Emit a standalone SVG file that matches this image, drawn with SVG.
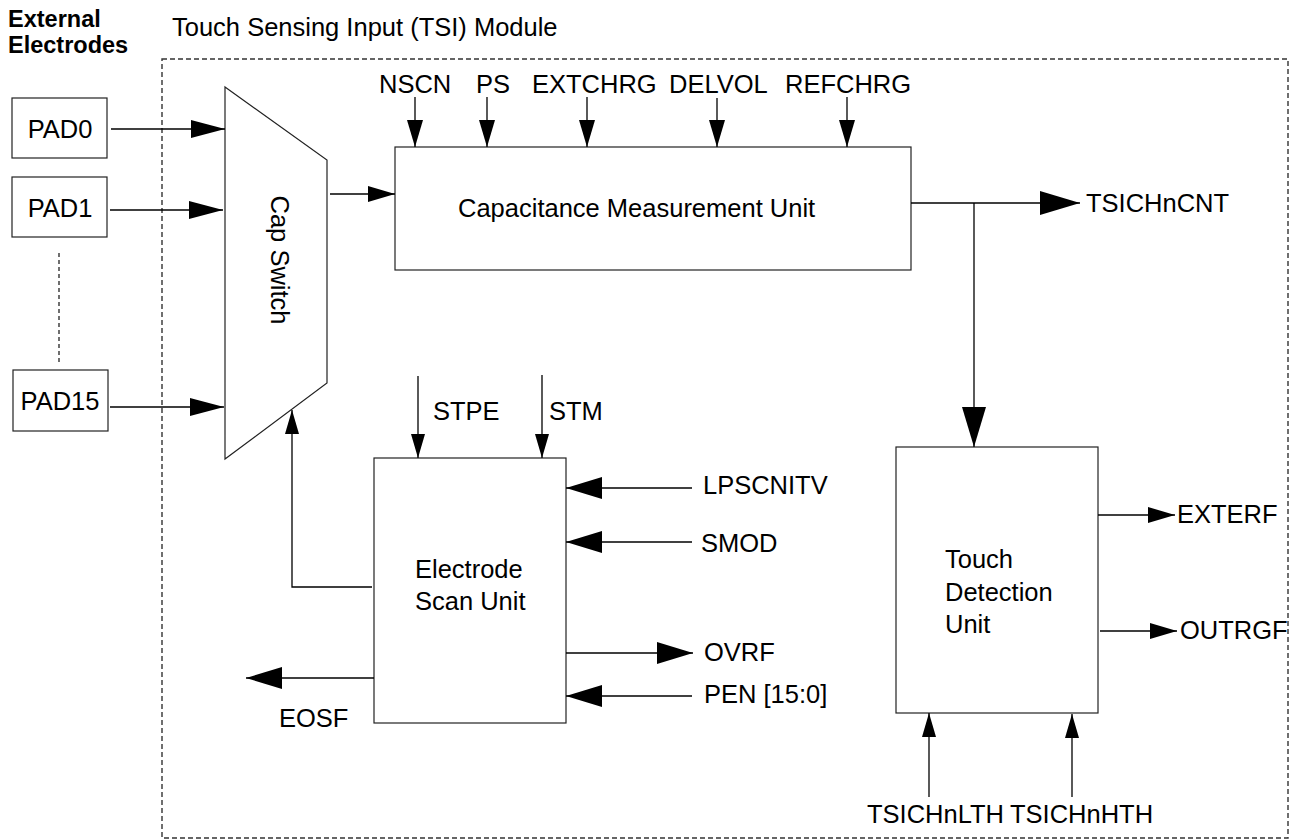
<svg xmlns="http://www.w3.org/2000/svg" width="1294" height="839" viewBox="0 0 1294 839">
<style>
text{font-family:"Liberation Sans",Arial,Helvetica,sans-serif;font-size:25.5px;fill:#000}
.bold{font-weight:bold;font-size:23.5px}
.box{fill:#fff;stroke:#222;stroke-width:1.2}
.wire{fill:none;stroke:#000;stroke-width:1.3}
.dash{fill:none;stroke:#333;stroke-width:1.4;stroke-dasharray:5,3}
.dot{fill:none;stroke:#222;stroke-width:1.3;stroke-dasharray:4,3}
</style>
<defs>
<marker id="mA" markerUnits="userSpaceOnUse" markerWidth="34" markerHeight="18" refX="34" refY="9" orient="auto"><path d="M0,0 L34,9 L0,18 z" fill="#000"/></marker>
<marker id="mB" markerUnits="userSpaceOnUse" markerWidth="27" markerHeight="16" refX="27" refY="8" orient="auto"><path d="M0,0 L27,8 L0,16 z" fill="#000"/></marker>
<marker id="mC" markerUnits="userSpaceOnUse" markerWidth="40" markerHeight="24" refX="40" refY="12" orient="auto"><path d="M0,0 L40,12 L0,24 z" fill="#000"/></marker>
<marker id="mD" markerUnits="userSpaceOnUse" markerWidth="36" markerHeight="22" refX="36" refY="11" orient="auto"><path d="M0,0 L36,11 L0,22 z" fill="#000"/></marker>
<marker id="mE" markerUnits="userSpaceOnUse" markerWidth="24" markerHeight="14" refX="24" refY="7" orient="auto"><path d="M0,0 L24,7 L0,14 z" fill="#000"/></marker>
</defs>
<rect width="1294" height="839" fill="#fff"/>

<g id="titles">
<text class="bold" x="8" y="27">External</text>
<text class="bold" x="8" y="53">Electrodes</text>
<text x="172" y="36">Touch Sensing Input (TSI) Module</text>
</g>

<g id="tsi-module">
<rect class="dash" x="162" y="59" width="1126" height="779"/>
</g>

<g id="pad0"><rect class="box" x="12" y="98" width="95" height="60"/><text x="60" y="138" text-anchor="middle">PAD0</text></g>
<g id="pad1"><rect class="box" x="12" y="177" width="95" height="60"/><text x="60" y="217" text-anchor="middle">PAD1</text></g>
<g id="pad15"><rect class="box" x="13" y="370" width="95" height="61"/><text x="60" y="410" text-anchor="middle">PAD15</text></g>
<g id="pad-ellipsis"><line class="dot" x1="59" y1="253" x2="59" y2="364"/></g>

<g id="cap-switch">
<polygon class="box" points="225,87 327,160 327,383 225,459"/>
<text transform="translate(271,260) rotate(90)" text-anchor="middle">Cap Switch</text>
</g>

<g id="cmu">
<rect class="box" x="395" y="147" width="516" height="123"/>
<text x="458" y="217">Capacitance Measurement Unit</text>
</g>

<g id="esu">
<rect class="box" x="374" y="458" width="192" height="265"/>
<text x="415" y="578">Electrode</text>
<text x="415" y="610">Scan Unit</text>
</g>

<g id="tdu">
<rect class="box" x="896" y="447" width="202" height="266"/>
<text x="945" y="568">Touch</text>
<text x="945" y="601">Detection</text>
<text x="945" y="633">Unit</text>
</g>

<g id="labels">
<text x="379" y="93">NSCN</text>
<text x="476" y="93">PS</text>
<text x="532" y="93">EXTCHRG</text>
<text x="669" y="93">DELVOL</text>
<text x="785" y="93">REFCHRG</text>
<text x="1086" y="212">TSICHnCNT</text>
<text x="433" y="420">STPE</text>
<text x="549" y="420">STM</text>
<text x="703" y="494">LPSCNITV</text>
<text x="701" y="552">SMOD</text>
<text x="704" y="661">OVRF</text>
<text x="704" y="703">PEN [15:0]</text>
<text x="279" y="727">EOSF</text>
<text x="1177" y="523">EXTERF</text>
<text x="1180" y="639">OUTRGF</text>
<text x="867" y="823">TSICHnLTH</text>
<text x="1010" y="823">TSICHnHTH</text>
</g>

<g id="connectors">
<path class="wire" d="M111,129 H225" marker-end="url(#mA)"/>
<path class="wire" d="M110,210 H223" marker-end="url(#mA)"/>
<path class="wire" d="M110,407 H224" marker-end="url(#mA)"/>
<path class="wire" d="M330,194 H395" marker-end="url(#mB)"/>
<path class="wire" d="M415,97 V147" marker-end="url(#mB)"/>
<path class="wire" d="M487,97 V147" marker-end="url(#mB)"/>
<path class="wire" d="M587,97 V147" marker-end="url(#mB)"/>
<path class="wire" d="M717,98 V147" marker-end="url(#mB)"/>
<path class="wire" d="M847,97 V147" marker-end="url(#mB)"/>
<path class="wire" d="M911,203 H1080" marker-end="url(#mC)"/>
<path class="wire" d="M974,203 V447" marker-end="url(#mC)"/>
<path class="wire" d="M372,587 H292 V410" marker-end="url(#mE)"/>
<path class="wire" d="M418,376 V458" marker-end="url(#mE)"/>
<path class="wire" d="M542,375 V458" marker-end="url(#mE)"/>
<path class="wire" d="M692,488 H566" marker-end="url(#mD)"/>
<path class="wire" d="M692,542 H566" marker-end="url(#mD)"/>
<path class="wire" d="M566,653 H693" marker-end="url(#mD)"/>
<path class="wire" d="M692,696 H566" marker-end="url(#mD)"/>
<path class="wire" d="M374,678 H246" marker-end="url(#mD)"/>
<path class="wire" d="M1098,515 H1175" marker-end="url(#mB)"/>
<path class="wire" d="M1100,631 H1177" marker-end="url(#mB)"/>
<path class="wire" d="M929,797 V713" marker-end="url(#mE)"/>
<path class="wire" d="M1072,797 V714" marker-end="url(#mE)"/>
</g>
</svg>
